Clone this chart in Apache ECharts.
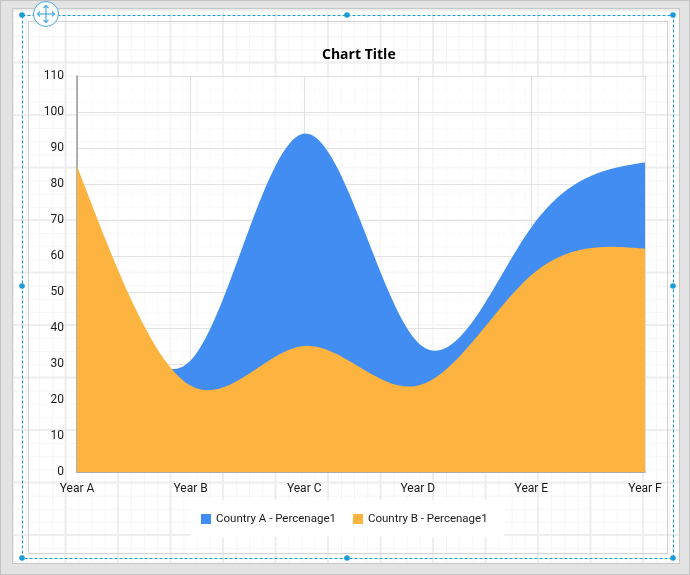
<!DOCTYPE html>
<html>
<head>
<meta charset="utf-8">
<style>
    body { margin: 0; background: #e3e3e3; }
    #frame { position: absolute; left: 0; top: 0; width: 688px; height: 573px; border: 1px solid #c4c4c4; }
    #sheet {
        position: absolute; left: 12px; top: 8px; width: 666px; height: 554px;
        border: 1px solid #c8c8c8; background-color: #fff;
        background-image:
            linear-gradient(to right, #eeeeee 2px, transparent 2px),
            linear-gradient(to bottom, #eeeeee 2px, transparent 2px),
            linear-gradient(to right, #f5f5f5 1px, transparent 1px),
            linear-gradient(to bottom, #f5f5f5 1px, transparent 1px);
        background-size: 52.5px 52.5px, 52.5px 52.5px, 13.125px 13.125px, 13.125px 13.125px;
        background-position: 51.5px 0, 0 52.5px, 13px 0, 0 1px;
    }
    #inner { position: absolute; left: 28px; top: 21px; width: 638px; height: 531px; border: 1px solid #d2d2d2; }
    #main { position: absolute; left: 0; top: 0; width: 690px; height: 575px; }
</style>
</head>
<body>
<div id="frame"></div>
<div id="sheet"></div>
<div id="inner"></div>
<div id="main"></div>
<script src="https://cdn.jsdelivr.net/npm/echarts@6/dist/echarts.min.js"></script>
<script>
var categories = ['Year A', 'Year B', 'Year C', 'Year D', 'Year E', 'Year F'];
var seriesNames = ['Country A - Percenage1', 'Country B - Percenage1'];
var countryA = [78, 31, 94, 36, 68, 86];
var countryB = [85, 24, 35, 24, 54.7, 62];

var handleSpots = [[22, 15], [347, 15], [673, 15], [22, 286], [673, 286], [22, 558], [347, 558], [673, 558]];

var fontName = 'Roboto, "Noto Sans", sans-serif';
var blue = '#418df2';
var orange = '#fdb33f';
var cyan = '#1b9bd8';

// second derivatives of a natural cubic spline over evenly spaced points
function splineMoments(ys) {
    var n = ys.length;
    var m = new Array(n).fill(0);
    var c = new Array(n).fill(0);
    var d = new Array(n).fill(0);
    for (var i = 1; i < n - 1; i++) {
        var w = 4 - c[i - 1];
        c[i] = 1 / w;
        d[i] = (6 * (ys[i - 1] - 2 * ys[i] + ys[i + 1]) - d[i - 1]) / w;
    }
    for (var j = n - 2; j > 0; j--) {
        m[j] = d[j] - c[j] * m[j + 1];
    }
    return m;
}

// the chart's area is a spline through the six values, placed with the axes
function splineArea(values, color) {
    return function (params, api) {
        if (params.dataIndex > 0) {
            return null;
        }
        var pts = values.map(function (v, i) { return api.coord([i, v]); });
        var ys = pts.map(function (p) { return p[1]; });
        var m = splineMoments(ys);
        var base = api.coord([0, 0])[1];
        var outline = [[pts[0][0], base]];
        for (var i = 0; i < pts.length - 1; i++) {
            for (var k = 0; k < 40; k++) {
                var t = k / 40;
                var u = 1 - t;
                outline.push([
                    pts[i][0] + (pts[i + 1][0] - pts[i][0]) * t,
                    u * ys[i] + t * ys[i + 1] + ((u * u * u - u) * m[i] + (t * t * t - t) * m[i + 1]) / 6
                ]);
            }
        }
        var last = pts[pts.length - 1];
        outline.push(last, [last[0], base]);
        return { type: 'polygon', shape: { points: outline }, style: { fill: color } };
    };
}

function areaSeries(name, values, color) {
    return {
        name: name,
        type: 'custom',
        silent: true,
        clip: true,
        itemStyle: { color: color },
        renderItem: splineArea(values, color),
        encode: { x: 0, y: 1 },
        data: values.map(function (v, i) { return [i, v]; })
    };
}

// selection frame, handles and the move icon of the designer
var marks = [{
    type: 'rect',
    shape: { x: 22.5, y: 15.5, width: 651, height: 543 },
    style: { fill: null, stroke: cyan, lineWidth: 1, lineDash: [3, 2] }
}];
handleSpots.forEach(function (p) {
    marks.push({ type: 'circle', shape: { cx: p[0], cy: p[1], r: 2.8 }, style: { fill: cyan } });
});
marks.push({
    type: 'circle',
    shape: { cx: 46, cy: 14, r: 12.5 },
    style: { fill: '#fff', stroke: '#49a9e3', lineWidth: 1 }
});
[
    [[46, 5.5], [46, 22.5]], [[37.5, 14], [54.5, 14]],
    [[43.5, 8], [46, 5.5], [48.5, 8]], [[43.5, 20], [46, 22.5], [48.5, 20]],
    [[40, 11.5], [37.5, 14], [40, 16.5]], [[52, 11.5], [54.5, 14], [52, 16.5]]
].forEach(function (pts) {
    marks.push({ type: 'polyline', shape: { points: pts }, style: { fill: null, stroke: '#49a9e3', lineWidth: 1.2 } });
});

var myChart = echarts.init(document.getElementById('main'));
myChart.setOption({
    animation: false,
    textStyle: { fontFamily: fontName },
    title: {
        text: 'Chart Title',
        left: 322,
        top: 48,
        padding: 0,
        textStyle: { fontSize: 14, fontWeight: 'bold', color: '#000', fontFamily: '"Open Sans", sans-serif' }
    },
    grid: {
        left: 77,
        right: 45,
        top: 76,
        bottom: 103,
        show: true,
        borderWidth: 0,
        backgroundColor: 'rgba(255,255,255,0.55)'
    },
    legend: {
        left: 191,
        top: 500,
        padding: [13, 16, 12, 10],
        itemGap: 17,
        itemWidth: 10,
        itemHeight: 10,
        icon: 'rect',
        backgroundColor: '#fff',
        textStyle: { fontSize: 11.5, color: '#1a1a1a', fontFamily: fontName },
        data: seriesNames
    },
    xAxis: {
        type: 'category',
        boundaryGap: false,
        data: categories,
        axisLine: { onZero: false, lineStyle: { color: '#999', width: 1.5 } },
        axisTick: { show: false },
        axisLabel: { interval: 0, margin: 11, fontSize: 12, color: '#1a1a1a' },
        splitLine: { show: true, interval: 0, lineStyle: { color: '#e2e2e2' } }
    },
    yAxis: {
        type: 'value',
        min: 0,
        max: 110,
        interval: 10,
        axisLine: { show: true, lineStyle: { color: '#999', width: 1.5 } },
        axisTick: { show: false },
        axisLabel: { margin: 13, fontSize: 12, color: '#1a1a1a' },
        splitLine: { show: true, lineStyle: { color: '#e2e2e2' } }
    },
    series: [
        areaSeries(seriesNames[0], countryA, blue),
        areaSeries(seriesNames[1], countryB, orange)
    ],
    graphic: marks
});
</script>
</body>
</html>
